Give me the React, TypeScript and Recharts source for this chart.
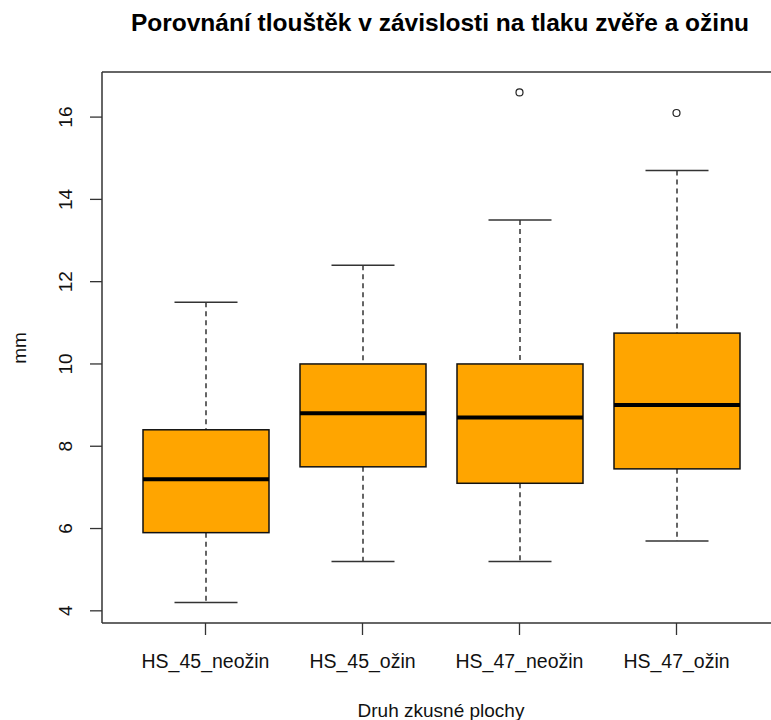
import React from 'react';
import { ComposedChart, Bar, Scatter, XAxis, YAxis } from 'recharts';

const categories = ['HS_45_neožin', 'HS_45_ožin', 'HS_47_neožin', 'HS_47_ožin'];
const whiskerLow = [4.2, 5.2, 5.2, 5.7];
const q1 = [5.9, 7.5, 7.1, 7.45];
const median = [7.2, 8.8, 8.7, 9.0];
const q3 = [8.4, 10.0, 10.0, 10.75];
const whiskerHigh = [11.5, 12.4, 13.5, 14.7];
const outliers: (number | null)[] = [null, null, 16.6, 16.1];
const yTicks = [4, 6, 8, 10, 12, 14, 16];
const yDomain: [number, number] = [3.704, 17.096];

const title = 'Porovnání tlouštěk v závislosti na tlaku zvěře a ožinu';
const xTitle = 'Druh zkusné plochy';
const yTitle = 'mm';

const data = categories.map((name, i) => ({
  name,
  low: whiskerLow[i],
  q1: q1[i],
  median: median[i],
  q3: q3[i],
  high: whiskerHigh[i],
  range: [whiskerLow[i], whiskerHigh[i]],
  outlier: outliers[i],
}));

const FONT = '"Liberation Sans", Arial, Helvetica, sans-serif';
const AXIS = '#333';

const BoxShape = (props: any) => {
  const { x, y, width, height, payload } = props;
  if (x == null || y == null) return null;
  const top = Math.min(y, y + height);
  const bottom = Math.max(y, y + height);
  const k = (bottom - top) / (payload.high - payload.low);
  const py = (v: number) => bottom - (v - payload.low) * k;
  const cx = x + width / 2;
  const capHalf = width / 4;
  return (
    <g>
      <line x1={cx} x2={cx} y1={py(payload.high)} y2={py(payload.q3)} stroke={AXIS} strokeWidth={1.5} strokeDasharray="5 4" />
      <line x1={cx} x2={cx} y1={py(payload.q1)} y2={py(payload.low)} stroke={AXIS} strokeWidth={1.5} strokeDasharray="5 4" />
      <line x1={cx - capHalf} x2={cx + capHalf} y1={py(payload.high)} y2={py(payload.high)} stroke={AXIS} strokeWidth={1.5} />
      <line x1={cx - capHalf} x2={cx + capHalf} y1={py(payload.low)} y2={py(payload.low)} stroke={AXIS} strokeWidth={1.5} />
      <rect x={x} y={py(payload.q3)} width={width} height={py(payload.q1) - py(payload.q3)} fill="#FFA500" stroke="#111" strokeWidth={1.5} />
      <line x1={x} x2={x + width} y1={py(payload.median)} y2={py(payload.median)} stroke="#000" strokeWidth={4} />
    </g>
  );
};

const OutlierShape = (props: any) => {
  const { cx, cy, payload } = props;
  if (payload == null || payload.outlier == null || !Number.isFinite(cy)) return null;
  return <circle cx={cx} cy={cy} r={3.5} fill="#fff" stroke="#222" strokeWidth={1.2} />;
};

const XTick = (props: any) => {
  const { x, y, payload } = props;
  return (
    <text x={x} y={y + 31} textAnchor="middle" fontFamily={FONT} fontSize={19.5} fill="#111">
      {payload.value}
    </text>
  );
};

const YTick = (props: any) => {
  const { x, y, payload } = props;
  const tx = x - 22;
  return (
    <text x={tx} y={y} textAnchor="middle" dominantBaseline="central" transform={`rotate(-90 ${tx} ${y})`} fontFamily={FONT} fontSize={19} fill="#111">
      {payload.value}
    </text>
  );
};

export default function App() {
  return (
    <div style={{ position: 'absolute', left: 0, top: 0, width: 771, height: 720, overflow: 'hidden', background: '#fff' }}>
      <ComposedChart width={790} height={720} data={data} margin={{ top: 71, right: 9, bottom: 57, left: 62 }}>
        <XAxis
          dataKey="name"
          type="category"
          padding={{ left: 25, right: 25 }}
          axisLine={{ stroke: AXIS, strokeWidth: 1.5 }}
          tickLine={{ stroke: AXIS, strokeWidth: 1.3 }}
          tickSize={12}
          height={40}
          tick={<XTick />}
          interval={0}
        />
        <XAxis
          xAxisId="top"
          orientation="top"
          dataKey="name"
          type="category"
          padding={{ left: 25, right: 25 }}
          axisLine={{ stroke: AXIS, strokeWidth: 1.5 }}
          tickLine={false}
          tick={false}
          height={1}
        />
        <YAxis
          type="number"
          domain={yDomain}
          ticks={yTicks}
          allowDataOverflow
          axisLine={{ stroke: AXIS, strokeWidth: 1.5 }}
          tickLine={{ stroke: AXIS, strokeWidth: 1.3 }}
          tickSize={12}
          width={40}
          tick={<YTick />}
        />
        <YAxis
          yAxisId="right"
          orientation="right"
          type="number"
          domain={yDomain}
          allowDataOverflow
          axisLine={{ stroke: AXIS, strokeWidth: 1.5 }}
          tickLine={false}
          tick={false}
          width={1}
        />
        <Bar dataKey="range" barSize={126} shape={<BoxShape />} isAnimationActive={false} />
        <Scatter dataKey="outlier" shape={<OutlierShape />} isAnimationActive={false} />
        <text x={440} y={31} textAnchor="middle" fontFamily={FONT} fontSize={24.5} fontWeight="bold" fill="#000">
          {title}
        </text>
        <text x={441} y={717} textAnchor="middle" fontFamily={FONT} fontSize={19} fill="#111">
          {xTitle}
        </text>
        <text x={19} y={348} textAnchor="middle" dominantBaseline="central" transform="rotate(-90 19 348)" fontFamily={FONT} fontSize={19} fill="#111">
          {yTitle}
        </text>
      </ComposedChart>
    </div>
  );
}
